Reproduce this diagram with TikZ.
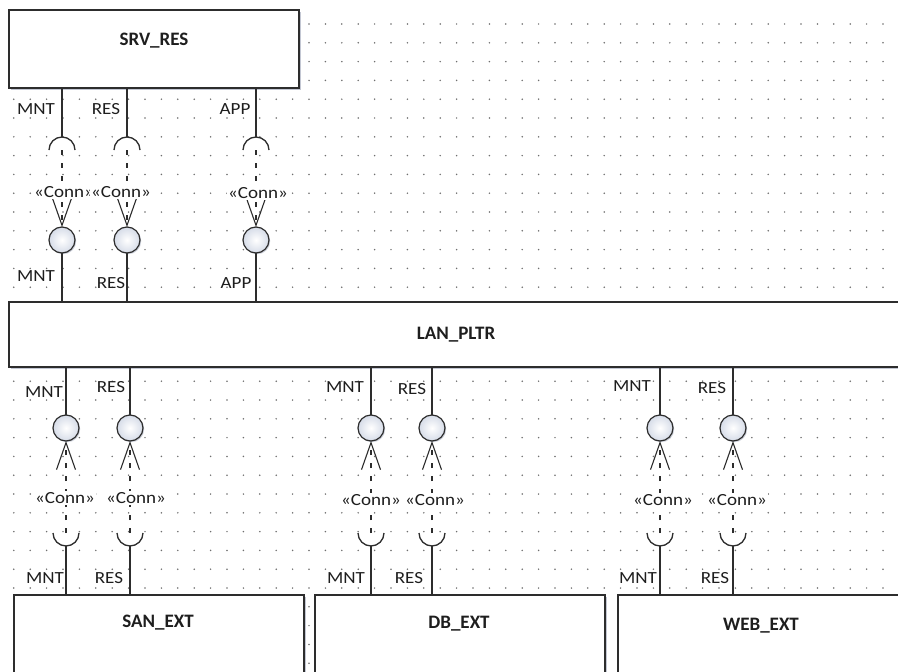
\documentclass[tikz,border=0pt]{standalone}
\usepackage{fontspec}
\setmainfont{Carlito}
\newfontfamily\lblfont[FakeStretch=1.12]{Carlito}
\usetikzlibrary{arrows.meta,calc,shadows}
\definecolor{ink}{RGB}{45,45,45}
\definecolor{txt}{RGB}{30,30,30}
\definecolor{dotc}{RGB}{110,110,110}
\definecolor{ifc}{RGB}{214,220,232}
\definecolor{shd}{RGB}{180,186,200}
\tikzset{
  box/.style={draw=ink, line width=1.3pt, fill=white, inner sep=0pt, outer sep=0pt,
    drop shadow={shadow xshift=1.6pt, shadow yshift=-1.6pt, fill=shd, opacity=0.8}},
  title/.style={font=\bfseries\fontsize{19}{22}\selectfont, text=txt, inner sep=0pt},
  plbl/.style={font=\lblfont\fontsize{17}{20}\selectfont, text=txt, inner sep=0pt},
  connlbl/.style={font=\lblfont\fontsize{17}{20}\selectfont, text=txt, fill=white, inner sep=1pt},
  iface/.style={circle, minimum size=26pt, inner sep=0pt, outer sep=0pt, draw=ink, line width=1.2pt,
    inner color=white, outer color=ifc,
    drop shadow={shadow xshift=1.2pt, shadow yshift=-1.2pt, fill=shd, opacity=0.7}},
  wire/.style={draw=ink, line width=1.3pt},
  dep/.style={draw=ink, line width=1.1pt, dash pattern=on 5pt off 8pt,
    -{Straight Barb[length=27pt,width=19pt]}}
}
\begin{document}
\begin{tikzpicture}[x=1pt,y=-1pt]
\useasboundingbox (0,0) rectangle (898,672);
\clip (0,0) rectangle (898,672);
\fill[white] (0,0) rectangle (898,672);
% dot grid
\foreach \i in {0,...,53}{
  \foreach \j in {0,...,34}{
    \fill[dotc] (13.8+16.4*\i, 24+18.8*\j) circle[radius=0.85];
  }
}
% boxes
\node[box, minimum width=290pt, minimum height=78pt] (srv) at (154,49) {};
\node[title] (srvt) at (154,41) {SRV\_RES};
\node[box, minimum width=901pt, minimum height=65pt] (lan) at (459.5,334.5) {};
\node[title] (lant) at (456,335) {LAN\_PLTR};
\node[box, minimum width=290pt, minimum height=95pt] (san) at (159,642.5) {};
\node[title] (sant) at (158,623) {SAN\_EXT};
\node[box, minimum width=290pt, minimum height=95pt] (db) at (460,642.5) {};
\node[title] (dbt) at (459,624) {DB\_EXT};
\node[box, minimum width=292pt, minimum height=95pt] (web) at (764,642.5) {};
\node[title] (webt) at (761,626) {WEB\_EXT};
% upper ports: SRV_RES -> LAN_PLTR
\foreach \n/\x in {ua/62,ub/127,uc/256}{
  \coordinate (s\n) at (\x,150);
  \node[iface] (c\n) at (\x,240) {};
  \draw[wire] (srv.south -| s\n) -- ($(s\n)+(0,-13)$);
  \draw[wire] ($(s\n)+(-13,0)$) arc[start angle=180,end angle=360,radius=13];
  \draw[dep] (s\n) -- (c\n.north);
  \draw[wire] (c\n.south) -- (lan.north -| c\n);
}
% lower ports: LAN_PLTR -> extension boxes
\foreach \n/\x/\b in {la/66/san,lb/130/san,lc/371/db,ld/432/db,le/660/web,lf/733/web}{
  \coordinate (s\n) at (\x,533);
  \node[iface] (c\n) at (\x,428) {};
  \draw[wire] (lan.south -| c\n) -- (c\n.north);
  \draw[dep] (s\n) -- (c\n.south);
  \draw[wire] ($(s\n)+(-13,0)$) arc[start angle=180,end angle=0,radius=13];
  \draw[wire] ($(s\n)+(0,13)$) -- (\b.north -| s\n);
}
% stereotype labels
\node[connlbl] (kua) at (64,192) {«Conn»};
\node[connlbl] (kub) at (121,192) {«Conn»};
\node[connlbl] (kuc) at (258,193) {«Conn»};
\node[connlbl] (kla) at (65,498) {«Conn»};
\node[connlbl] (klb) at (136,498) {«Conn»};
\node[connlbl] (klc) at (371,500) {«Conn»};
\node[connlbl] (kld) at (435,500) {«Conn»};
\node[connlbl] (kle) at (663,500) {«Conn»};
\node[connlbl] (klf) at (737,500) {«Conn»};
% port labels
\node[plbl] (pu1) at (36,109) {MNT};
\node[plbl] (pu2) at (106,109) {RES};
\node[plbl] (pu3) at (235,109) {APP};
\node[plbl] (pu4) at (36,276) {MNT};
\node[plbl] (pu5) at (111,283) {RES};
\node[plbl] (pu6) at (236,283) {APP};
\node[plbl] (ps1) at (44,392) {MNT};
\node[plbl] (ps2) at (111,387) {RES};
\node[plbl] (ps3) at (45,578) {MNT};
\node[plbl] (ps4) at (109,578) {RES};
\node[plbl] (pd1) at (345,387) {MNT};
\node[plbl] (pd2) at (412,389) {RES};
\node[plbl] (pd3) at (346,578) {MNT};
\node[plbl] (pd4) at (409,578) {RES};
\node[plbl] (pw1) at (632,386) {MNT};
\node[plbl] (pw2) at (712,388) {RES};
\node[plbl] (pw3) at (638,578) {MNT};
\node[plbl] (pw4) at (715,578) {RES};
\end{tikzpicture}
\end{document}
